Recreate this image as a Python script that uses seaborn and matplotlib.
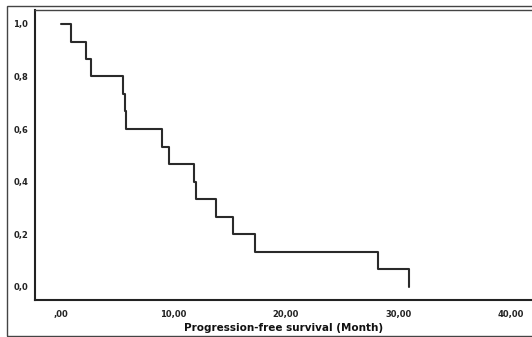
import matplotlib
matplotlib.use("Agg")
import matplotlib.pyplot as plt
import matplotlib.patches as patches
import pandas as pd
import seaborn as sns

# Kaplan-Meier step points (time in months, cumulative survival)
tempo = [0.0, 0.92, 2.25, 2.72, 5.57, 5.72, 5.82, 9.0, 9.63, 11.85, 12.0, 13.8, 15.3, 17.3, 28.2, 31.0]
sobrevida = [1.0, 0.933, 0.867, 0.8, 0.733, 0.667, 0.6, 0.533, 0.467, 0.4, 0.333, 0.267, 0.2, 0.133, 0.067, 0.0]

x_ticks = [0, 10, 20, 30, 40]
x_labels = [",00", "10,00", "20,00", "30,00", "40,00"]
y_ticks = [0.0, 0.2, 0.4, 0.6, 0.8, 1.0]
y_labels = ["0,0", "0,2", "0,4", "0,6", "0,8", "1,0"]

df = pd.DataFrame({"tempo": tempo, "sobrevida": sobrevida})

sns.set_style("white")
plt.rcParams["font.family"] = ["DejaVu Sans"]

fig = plt.figure(figsize=(5.32, 3.37), dpi=100)
W, H = 532, 337
ax = fig.add_axes([35 / W, 37 / H, 1 - 35 / W, 290 / H])

sns.lineplot(data=df, x="tempo", y="sobrevida", drawstyle="steps-post",
             color="#2a2a2a", linewidth=1.5, ax=ax)

ax.set_xlim(-2.28, 41.9)
ax.set_ylim(-0.0506, 1.053)
ax.set_xticks(x_ticks)
ax.set_xticklabels(x_labels, fontsize=6, fontweight="bold", color="#222222")
ax.set_yticks(y_ticks)
ax.set_yticklabels(y_labels, fontsize=6, fontweight="bold", color="#222222")
ax.tick_params(axis="both", direction="out", length=3, width=1, colors="#222222",
               pad=2, labelcolor="#222222")
ax.tick_params(axis="x", pad=4)
ax.set_xlabel("Progression-free survival (Month)", fontsize=7.5, fontweight="bold",
              color="#111111", labelpad=3)
ax.set_ylabel("")

for lado in ["left", "bottom"]:
    ax.spines[lado].set_linewidth(1.5)
    ax.spines[lado].set_color("#222222")
ax.spines["top"].set_linewidth(1.0)
ax.spines["top"].set_color("#444444")
ax.spines["right"].set_visible(False)

# moldura externa
moldura = patches.Rectangle((7 / W, 1 / H), 1.0, 330 / H, transform=fig.transFigure,
                            fill=False, edgecolor="#444444", linewidth=1.0)
fig.patches.append(moldura)

fig.savefig("out.png", dpi=100)
